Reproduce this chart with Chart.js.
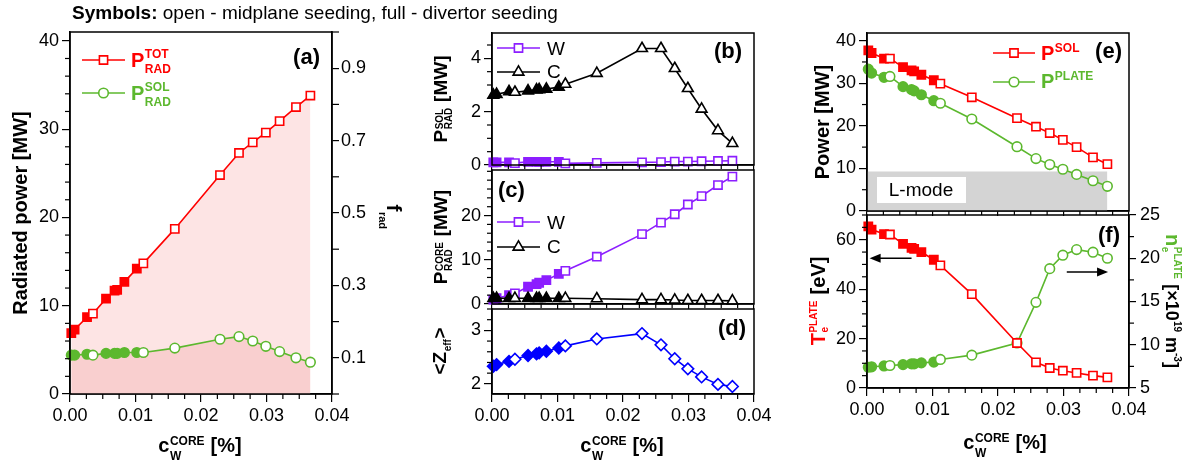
<!DOCTYPE html>
<html>
<head>
<meta charset="utf-8">
<script src="https://cdn.jsdelivr.net/npm/chart.js@4.4.0/dist/chart.umd.min.js"></script>
<style>
  html, body { margin: 0; padding: 0; background: #fff; }
  #wrap { position: relative; width: 1197px; height: 466px; overflow: hidden; }
  #wrap canvas { position: absolute; left: 0; top: 0; }
</style>
</head>
<body>
<div id="wrap">
  <canvas id="ca" width="1197" height="466"></canvas>
  <canvas id="cb" width="1197" height="466"></canvas>
  <canvas id="cc" width="1197" height="466"></canvas>
  <canvas id="cd" width="1197" height="466"></canvas>
  <canvas id="ce" width="1197" height="466"></canvas>
  <canvas id="cf" width="1197" height="466"></canvas>
</div>
<script>
// W concentration in the core [%] and which cases used divertor seeding (filled symbols)
const cw       = [0.0002, 0.0007, 0.0026, 0.0035, 0.0055, 0.0068, 0.0072, 0.0083, 0.0102, 0.0112, 0.0160, 0.0229, 0.0258, 0.0279, 0.0299, 0.0320, 0.0345, 0.0367];
const divertor = [1, 1, 1, 0, 1, 1, 1, 1, 1, 0, 0, 0, 0, 0, 0, 0, 0, 0];

// (a) radiated power [MW]
const pRadTot = [6.9, 7.3, 8.7, 9.1, 10.8, 11.7, 11.8, 12.7, 14.2, 14.8, 18.7, 24.8, 27.3, 28.5, 29.6, 30.9, 32.5, 33.8];
const pRadSol = [4.4, 4.4, 4.5, 4.4, 4.6, 4.6, 4.6, 4.7, 4.7, 4.7, 5.2, 6.2, 6.5, 6.0, 5.4, 4.8, 4.1, 3.6];
// (b) SOL radiation by species [MW]
const pSolW = [0.1, 0.1, 0.1, 0.07, 0.12, 0.12, 0.12, 0.12, 0.12, 0.06, 0.08, 0.1, 0.11, 0.13, 0.13, 0.14, 0.15, 0.16];
const pSolC = [2.62, 2.65, 2.75, 2.73, 2.78, 2.82, 2.83, 2.85, 2.92, 3.03, 3.44, 4.37, 4.37, 3.62, 2.87, 2.1, 1.29, 0.81];
// (c) core radiation by species [MW]
const pCoreW = [1.0, 1.3, 2.0, 2.4, 3.9, 4.5, 4.8, 5.4, 6.8, 7.5, 10.7, 15.8, 18.4, 20.3, 22.5, 24.4, 26.9, 28.8];
const pCoreC = [1.3, 1.3, 1.3, 1.3, 1.3, 1.3, 1.3, 1.3, 1.3, 1.3, 1.2, 1.0, 1.0, 0.9, 0.8, 0.8, 0.8, 0.7];
// (d) <Zeff>
const zeff = [2.33, 2.36, 2.42, 2.46, 2.53, 2.56, 2.58, 2.61, 2.67, 2.71, 2.84, 2.94, 2.73, 2.47, 2.28, 2.13, 1.99, 1.95];
// (e) power [MW]
const pSol   = [37.7, 37.1, 35.8, 35.8, 33.8, 33.0, 32.8, 32.0, 30.7, 29.9, 26.7, 21.8, 19.8, 18.3, 16.7, 15.0, 12.6, 11.0];
const pPlate = [33.3, 32.4, 31.4, 31.6, 29.2, 28.5, 28.2, 27.3, 25.9, 25.3, 21.6, 15.1, 12.3, 10.9, 9.8, 8.6, 7.1, 5.8];
const lModeX = [0, 0.0367];
const lModeY = [9.3, 9.3];
// (f) plate temperature [eV] and density [1e19 m^-3]
const tePlate = [65.4, 64.1, 62.3, 62.1, 58.3, 56.7, 56.3, 55.0, 51.9, 49.6, 38.0, 18.2, 10.4, 8.1, 7.0, 6.1, 5.0, 4.3];
const nePlate = [7.4, 7.45, 7.55, 7.6, 7.7, 7.8, 7.8, 7.9, 8.0, 8.3, 8.8, 10.2, 14.9, 18.8, 20.35, 21.0, 20.7, 20.0];

// tick labels
const xTicks = [0, 0.01, 0.02, 0.03, 0.04];
const aTicks = [0, 10, 20, 30, 40];
const fradTicks = [0.1, 0.3, 0.5, 0.7, 0.9];
const bTicks = [0, 2, 4];
const cTicks = [0, 10, 20];
const dTicks = [2, 3];
const eTicks = [0, 10, 20, 30, 40];
const fTicks = [0, 20, 40, 60];
const neTicks = [5, 10, 15, 20, 25];

const W = 1197, H = 466;
const RED = '#ff0000', GREEN = '#5cb82e', PURPLE = '#8c1eff', BLUE = '#0000ff', BLACK = '#000000';
const FONT = '"Liberation Sans", Arial, sans-serif';
const fnt = (sz, b) => (b ? 'bold ' : '') + sz + 'px ' + FONT;

Chart.defaults.font.family = FONT;
Chart.defaults.color = '#000';

function pts(ys) { return cw.map((x, i) => ({ x, y: ys[i] })); }
function faces(col) { return divertor.map(d => d ? col : '#ffffff'); }

function series(ys, col, shape, r, extra) {
  return Object.assign({
    data: pts(ys), borderColor: col, backgroundColor: col, borderWidth: 1.6,
    pointStyle: shape, pointRadius: r, pointBorderWidth: 1.6,
    pointBorderColor: col, pointBackgroundColor: faces(col),
    fill: false, tension: 0, clip: false
  }, extra || {});
}

function axis(pos, min, max, list, fmt, area, o) {
  o = o || {};
  return {
    type: 'linear', position: pos, min, max,
    afterBuildTicks: s => { s.ticks = list.map(v => ({ value: v })); },
    ticks: { display: o.labels !== false, callback: fmt, font: { size: 18 }, color: '#000',
             padding: o.pad == null ? 3 : o.pad, maxRotation: 0, autoSkip: false },
    grid: { drawOnChartArea: false, tickLength: o.tl || 8, color: '#000', lineWidth: 1.2 },
    border: { color: '#000', width: 1.5 },
    afterFit: s => {
      if (pos === 'bottom') s.height = H - area.b;
      else if (pos === 'left') s.width = area.l;
      else s.width = W - area.r;
    }
  };
}

const int = v => String(v);
const x2 = v => v.toFixed(2);

// minor ticks, frame, and all the texts with sub/superscripts
function deco(minor, draw) {
  return {
    id: 'deco',
    afterDraw(chart) {
      const ctx = chart.ctx, a = chart.chartArea;
      ctx.save();
      ctx.strokeStyle = '#000';
      ctx.lineWidth = 1.2;
      minor.forEach(([id, step, len]) => {
        const s = chart.scales[id];
        const majors = s.ticks.map(t => t.value);
        for (let k = Math.ceil(s.min / step - 1e-6); k * step <= s.max + 1e-9; k++) {
          const v = k * step;
          if (majors.some(m => Math.abs(m - v) < step * 1e-3)) continue;
          const p = s.getPixelForValue(v);
          ctx.beginPath();
          if (s.position === 'bottom') { ctx.moveTo(p, a.bottom); ctx.lineTo(p, a.bottom + len); }
          else if (s.position === 'left') { ctx.moveTo(a.left, p); ctx.lineTo(a.left - len, p); }
          else { ctx.moveTo(a.right, p); ctx.lineTo(a.right + len, p); }
          ctx.stroke();
        }
      });
      ctx.lineWidth = 1.5;
      ctx.strokeRect(a.left, a.top, a.right - a.left, a.bottom - a.top);
      ctx.restore();
      if (draw) draw(ctx, chart);
    }
  };
}

function rich(ctx, x, y, rot, segs, align) {
  ctx.save();
  ctx.translate(x, y);
  ctx.rotate(rot);
  ctx.textBaseline = 'alphabetic';
  ctx.textAlign = 'left';
  const widths = segs.map(s => {
    ctx.font = s.f;
    if (s.t !== undefined) return ctx.measureText(s.t).width;
    return Math.max(s.sup ? ctx.measureText(s.sup).width : 0, s.sub ? ctx.measureText(s.sub).width : 0) + 1;
  });
  const total = widths.reduce((p, c) => p + c, 0);
  let cx = align === 'center' ? -total / 2 : align === 'right' ? -total : 0;
  segs.forEach((s, i) => {
    ctx.font = s.f;
    ctx.fillStyle = s.c || '#000';
    if (s.t !== undefined) ctx.fillText(s.t, cx, s.dy || 0);
    else {
      if (s.sup) ctx.fillText(s.sup, cx + 0.5, s.up);
      if (s.sub) ctx.fillText(s.sub, cx + 0.5, s.dn);
    }
    cx += widths[i];
  });
  ctx.restore();
}

function legendMark(ctx, x0, x1, y, col, shape, r) {
  ctx.save();
  ctx.strokeStyle = col;
  ctx.lineWidth = 1.6;
  ctx.beginPath(); ctx.moveTo(x0, y); ctx.lineTo(x1, y); ctx.stroke();
  ctx.fillStyle = '#fff';
  Chart.helpers.drawPoint(ctx, { pointStyle: shape, radius: r, rotation: 0, borderWidth: 1.6 }, (x0 + x1) / 2, y);
  ctx.restore();
}

function arrow(ctx, x0, x1, y) {
  const d = Math.sign(x1 - x0);
  ctx.save();
  ctx.strokeStyle = '#000'; ctx.fillStyle = '#000'; ctx.lineWidth = 1.5;
  ctx.beginPath(); ctx.moveTo(x0, y); ctx.lineTo(x1 - d * 8, y); ctx.stroke();
  ctx.beginPath(); ctx.moveTo(x1, y); ctx.lineTo(x1 - d * 11, y - 4.5); ctx.lineTo(x1 - d * 11, y + 4.5); ctx.closePath(); ctx.fill();
  ctx.restore();
}

const xTitle = (ctx, cx, by) => rich(ctx, cx, by, 0, [
  { t: 'c', f: fnt(20, 1) },
  { sup: 'CORE', sub: 'W', f: fnt(12, 1), up: -7, dn: 8 },
  { t: ' [%]', f: fnt(20, 1) }
], 'center');

function makeChart(id, area, datasets, scales, minor, draw) {
  const hasRight = Object.values(scales).some(s => s.position === 'right');
  return new Chart(document.getElementById(id), {
    type: 'line',
    data: { datasets },
    options: {
      responsive: false, animation: false, devicePixelRatio: 1, events: [],
      layout: { padding: { left: 0, top: area.t, right: hasRight ? 0 : W - area.r, bottom: 0 } },
      plugins: { legend: { display: false }, tooltip: { enabled: false }, filler: { drawTime: 'beforeDatasetsDraw' } },
      scales
    },
    plugins: [deco(minor, draw)]
  });
}

const A = { l: 70, t: 32, r: 332, b: 394 };
const B = { l: 492, t: 33, r: 754, b: 165 };
const C = { l: 492, t: 170, r: 754, b: 304 };
const D = { l: 492, t: 309, r: 754, b: 394 };
const E = { l: 867, t: 33, r: 1129, b: 211 };
const F = { l: 867, t: 215, r: 1129, b: 388 };

// (a)
makeChart('ca', A, [
  series(pRadSol, GREEN, 'circle', 4.8, { fill: 'origin', backgroundColor: '#f9cfcf' }),
  series(pRadTot, RED, 'rect', 5.8, { fill: 'origin', backgroundColor: '#fde4e4' })
], {
  x: axis('bottom', 0, 0.04, xTicks, x2, A),
  y: axis('left', 0, 41, aTicks, int, A),
  y2: axis('right', 0, 1.0, fradTicks, v => v.toFixed(1), A, { tl: 7, pad: 2 })
}, [['x', 0.0025, 5], ['y', 2, 5], ['y2', 0.1, 7]], (ctx) => {
  rich(ctx, 72, 19, 0, [
    { t: 'Symbols:', f: fnt(19, 1) },
    { t: ' open - midplane seeding, full - divertor seeding', f: fnt(19) }
  ], 'left');
  rich(ctx, 27, 213, -Math.PI / 2, [{ t: 'Radiated power [MW]', f: fnt(20, 1) }], 'center');
  rich(ctx, 387, 217, Math.PI / 2, [
    { t: 'f', f: fnt(21, 1) },
    { sub: 'rad', f: fnt(11, 1), dn: 8 }
  ], 'center');
  xTitle(ctx, 200, 452);
  legendMark(ctx, 82, 125, 60, RED, 'rect', 5.8);
  rich(ctx, 131, 67, 0, [{ t: 'P', f: fnt(20, 1), c: RED }, { sup: 'TOT', sub: 'RAD', f: fnt(12, 1), c: RED, up: -9, dn: 6 }], 'left');
  legendMark(ctx, 82, 125, 93, GREEN, 'circle', 4.8);
  rich(ctx, 131, 100, 0, [{ t: 'P', f: fnt(20, 1), c: GREEN }, { sup: 'SOL', sub: 'RAD', f: fnt(12, 1), c: GREEN, up: -9, dn: 6 }], 'left');
  rich(ctx, 320, 64, 0, [{ t: '(a)', f: fnt(22, 1) }], 'right');
});

// (b)
makeChart('cb', B, [
  series(pSolC, BLACK, 'triangle', 6.2),
  series(pSolW, PURPLE, 'rect', 5.8)
], {
  x: axis('bottom', 0, 0.04, xTicks, x2, B, { labels: false, tl: 5 }),
  y: axis('left', 0, 4.95, bTicks, int, B)
}, [['x', 0.0025, 4], ['y', 0.5, 5]], (ctx) => {
  rich(ctx, 447, 99, -Math.PI / 2, [
    { t: 'P', f: fnt(19, 1) },
    { sup: 'SOL', sub: 'RAD', f: fnt(10, 1), up: -4, dn: 5 },
    { t: ' [MW]', f: fnt(19, 1) }
  ], 'center');
  legendMark(ctx, 497, 540, 48, PURPLE, 'rect', 5.8);
  rich(ctx, 547, 55, 0, [{ t: 'W', f: fnt(19) }], 'left');
  legendMark(ctx, 497, 540, 72, BLACK, 'triangle', 6.2);
  rich(ctx, 547, 78, 0, [{ t: 'C', f: fnt(19) }], 'left');
  rich(ctx, 742, 58, 0, [{ t: '(b)', f: fnt(22, 1) }], 'right');
});

// (c)
makeChart('cc', C, [
  series(pCoreC, BLACK, 'triangle', 6.2),
  series(pCoreW, PURPLE, 'rect', 5.8)
], {
  x: axis('bottom', 0, 0.04, xTicks, x2, C, { labels: false, tl: 5 }),
  y: axis('left', 0, 30.3, cTicks, int, C)
}, [['x', 0.0025, 4], ['y', 2, 5]], (ctx) => {
  rich(ctx, 447, 237, -Math.PI / 2, [
    { t: 'P', f: fnt(19, 1) },
    { sup: 'CORE', sub: 'RAD', f: fnt(10, 1), up: -4, dn: 5 },
    { t: ' [MW]', f: fnt(19, 1) }
  ], 'center');
  legendMark(ctx, 497, 540, 222, PURPLE, 'rect', 5.8);
  rich(ctx, 547, 229, 0, [{ t: 'W', f: fnt(19) }], 'left');
  legendMark(ctx, 497, 540, 247, BLACK, 'triangle', 6.2);
  rich(ctx, 547, 253, 0, [{ t: 'C', f: fnt(19) }], 'left');
  rich(ctx, 498, 197, 0, [{ t: '(c)', f: fnt(22, 1) }], 'left');
});

// (d)
makeChart('cd', D, [
  series(zeff, BLUE, 'rectRot', 5.8)
], {
  x: axis('bottom', 0, 0.04, xTicks, x2, D),
  y: axis('left', 1.81, 3.40, dTicks, int, D)
}, [['x', 0.0025, 5], ['y', 0.2, 5]], (ctx) => {
  rich(ctx, 446, 351, -Math.PI / 2, [
    { t: '<Z', f: fnt(19, 1) },
    { sub: 'eff', f: fnt(10, 1), dn: 5 },
    { t: '>', f: fnt(19, 1) }
  ], 'center');
  xTitle(ctx, 622, 452);
  rich(ctx, 746, 335, 0, [{ t: '(d)', f: fnt(22, 1) }], 'right');
});

// (e)
makeChart('ce', E, [
  series(pSol, RED, 'rect', 5.8),
  series(pPlate, GREEN, 'circle', 4.8),
  { data: lModeX.map((x, i) => ({ x, y: lModeY[i] })), borderWidth: 0, pointRadius: 0,
    fill: 'origin', backgroundColor: '#d4d4d4', borderColor: 'rgba(0,0,0,0)' }
], {
  x: axis('bottom', 0, 0.04, xTicks, x2, E, { labels: false, tl: 5 }),
  y: axis('left', 0, 41.8, eTicks, int, E)
}, [['x', 0.0025, 4], ['y', 5, 5]], (ctx) => {
  ctx.save();
  ctx.fillStyle = '#fff';
  ctx.fillRect(877, 177, 89, 26);
  ctx.restore();
  rich(ctx, 921, 196, 0, [{ t: 'L-mode', f: fnt(19) }], 'center');
  rich(ctx, 829, 122, -Math.PI / 2, [{ t: 'Power [MW]', f: fnt(20, 1) }], 'center');
  legendMark(ctx, 993, 1035, 53, RED, 'rect', 5.8);
  rich(ctx, 1041, 60, 0, [{ t: 'P', f: fnt(20, 1), c: RED }, { sup: 'SOL', f: fnt(12, 1), c: RED, up: -8 }], 'left');
  legendMark(ctx, 993, 1035, 82, GREEN, 'circle', 4.8);
  rich(ctx, 1041, 88, 0, [{ t: 'P', f: fnt(20, 1), c: GREEN }, { sup: 'PLATE', f: fnt(12, 1), c: GREEN, up: -8 }], 'left');
  rich(ctx, 1122, 58, 0, [{ t: '(e)', f: fnt(22, 1) }], 'right');
});

// (f)
makeChart('cf', F, [
  series(tePlate, RED, 'rect', 5.8),
  series(nePlate, GREEN, 'circle', 4.8, { yAxisID: 'y2' })
], {
  x: axis('bottom', 0, 0.04, xTicks, x2, F),
  y: axis('left', 0, 70, fTicks, int, F),
  y2: axis('right', 5, 25, neTicks, int, F, { tl: 7, pad: 4 })
}, [['x', 0.0025, 5], ['y', 5, 5], ['y2', 2.5, 5]], (ctx, ch) => {
  rich(ctx, 825, 301, -Math.PI / 2, [
    { t: 'T', f: fnt(20, 1), c: RED },
    { sup: 'PLATE', sub: 'e', f: fnt(10, 1), c: RED, up: -8, dn: 3 },
    { t: ' [eV]', f: fnt(20, 1) }
  ], 'center');
  rich(ctx, 1166, 301, Math.PI / 2, [
    { t: 'n', f: fnt(20, 1), c: GREEN },
    { sup: 'PLATE', sub: 'e', f: fnt(10, 1), c: GREEN, up: -8, dn: 4 },
    { t: ' [\u00d710', f: fnt(18, 1) },
    { t: '19', f: fnt(10, 1), dy: -8 },
    { t: ' m', f: fnt(18, 1) },
    { t: '-3', f: fnt(10, 1), dy: -8 },
    { t: ']', f: fnt(18, 1) }
  ], 'center');
  const sx = ch.scales.x, sy = ch.scales.y, s2 = ch.scales.y2;
  arrow(ctx, sx.getPixelForValue(0.0068), sx.getPixelForValue(0.0004), sy.getPixelForValue(52.5));
  arrow(ctx, sx.getPixelForValue(0.0305), sx.getPixelForValue(0.0368), s2.getPixelForValue(18.4));
  xTitle(ctx, 1005, 449);
  rich(ctx, 1120, 242, 0, [{ t: '(f)', f: fnt(22, 1) }], 'right');
});
</script>
</body>
</html>
